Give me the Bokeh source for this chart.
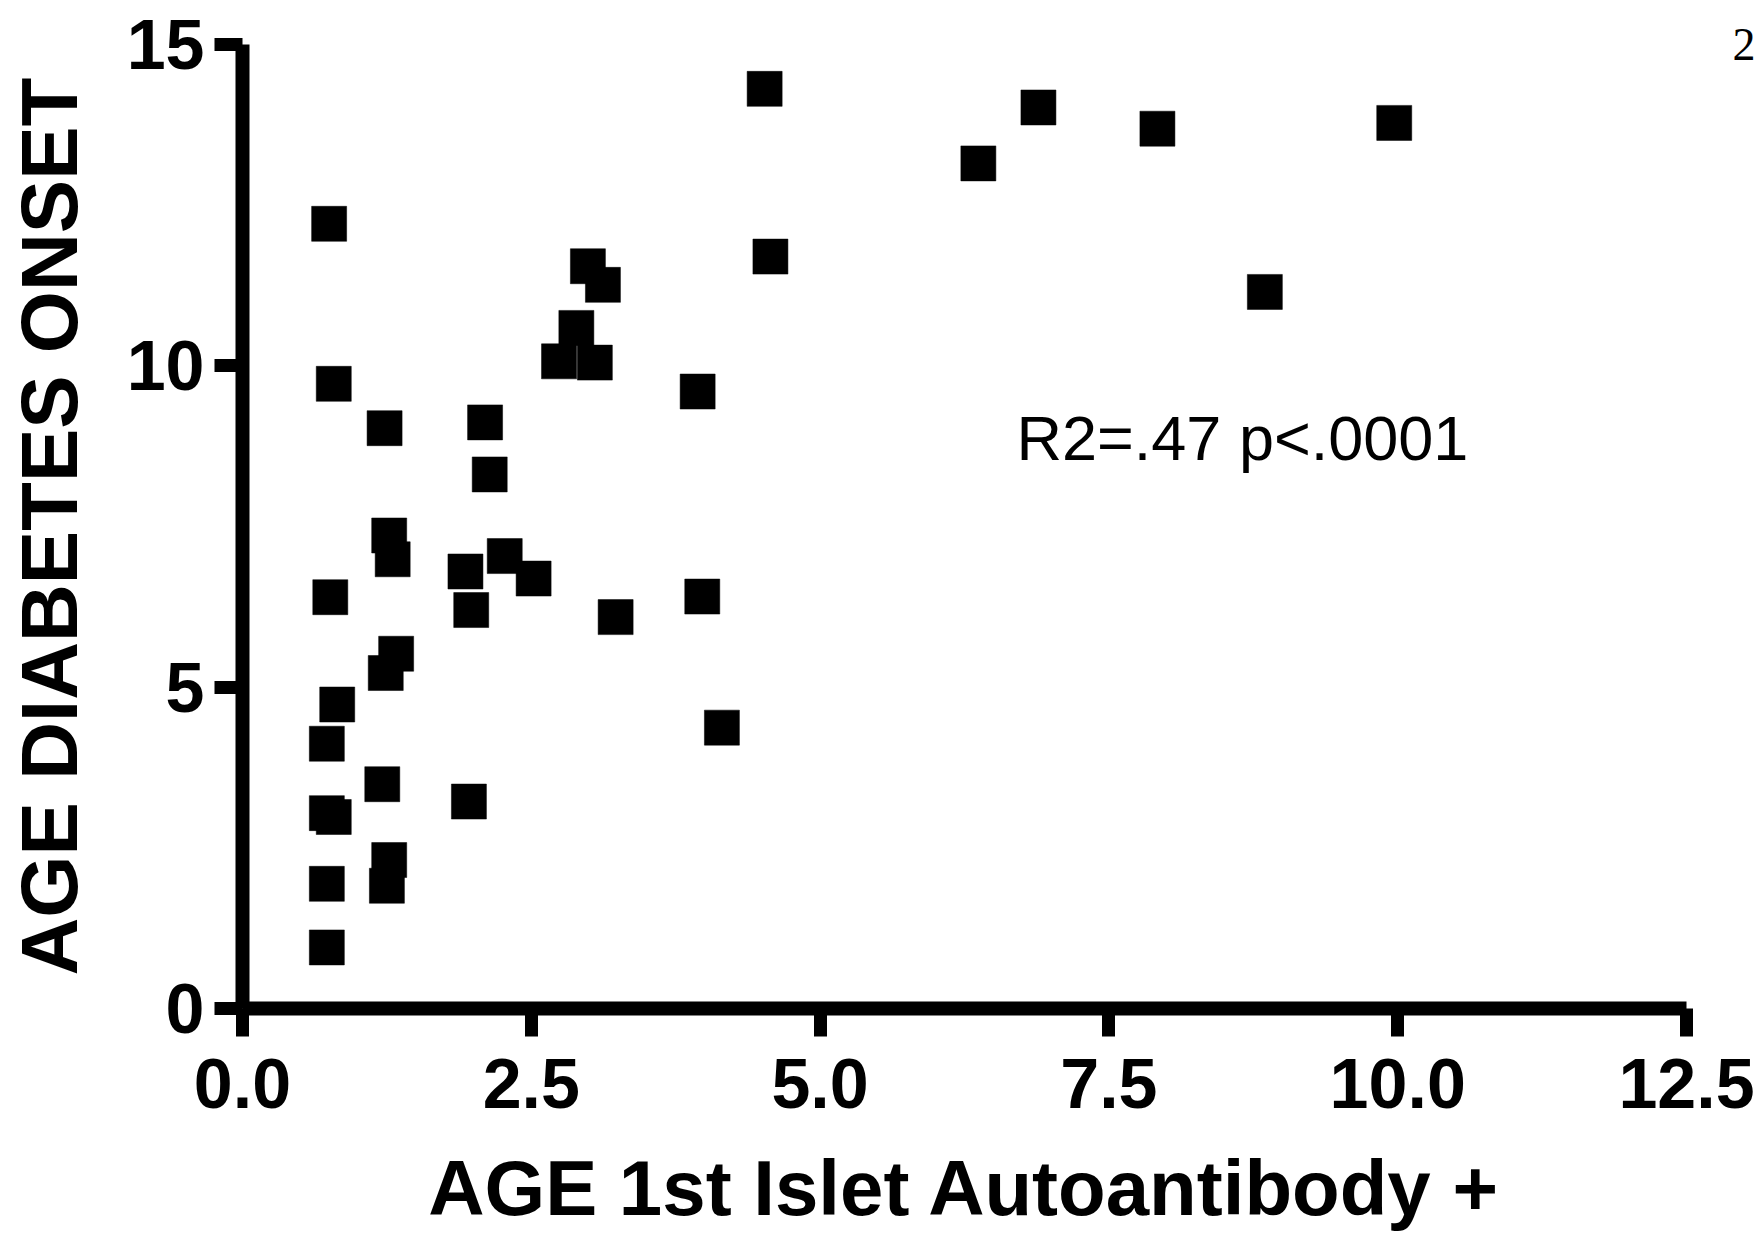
from bokeh.plotting import figure
from bokeh.models import Range1d, FixedTicker, Label, ColumnDataSource, LinearAxis
from bokeh.embed import file_html
from bokeh.resources import INLINE

# ---- data ----
age_first_autoantibody = [4.52, 0.75, 2.99, 3.12, 2.89, 2.74, 3.05, 3.94, 0.79, 1.23,
                          2.10, 2.14, 4.57, 6.37, 6.89, 7.92, 9.97, 8.85, 1.27, 1.30,
                          0.76, 1.93, 2.27, 2.52, 1.98, 3.23, 3.98, 1.33, 1.24, 0.82,
                          0.73, 4.15, 1.21, 1.96, 0.73, 0.79, 1.27, 1.25, 0.73, 0.73]
age_diabetes_onset = [14.31, 12.21, 11.55, 11.26, 10.59, 10.07, 10.05, 9.60, 9.72, 9.03,
                      9.12, 8.31, 11.70, 13.15, 14.02, 13.69, 13.78, 11.15, 7.36, 6.99,
                      6.40, 6.80, 7.04, 6.69, 6.20, 6.09, 6.41, 5.52, 5.22, 4.73,
                      4.12, 4.37, 3.49, 3.22, 3.04, 2.98, 2.31, 1.91, 1.94, 0.95]

x_ticks = [0, 2.5, 5, 7.5, 10, 12.5]
x_tick_labels = ["0.0", "2.5", "5.0", "7.5", "10.0", "12.5"]
y_ticks = [0, 5, 10, 15]
y_tick_labels = ["0", "5", "10", "15"]

x_title = "AGE 1st Islet Autoantibody +"
y_title = "AGE DIABETES ONSET"
stat_text = "R2=.47 p<.0001"
stat_pos = (6.70, 8.88)
page_number = "2"

src = ColumnDataSource(dict(x=age_first_autoantibody, y=age_diabetes_onset))

p = figure(width=1758, height=1235, output_backend="svg", toolbar_location=None,
           x_range=Range1d(0, 12.5), y_range=Range1d(0, 15),
           min_border_left=242, min_border_right=71, min_border_top=44, min_border_bottom=227)
p.background_fill_color = "white"
p.border_fill_color = "white"
p.outline_line_color = None
p.grid.visible = False

p.scatter("x", "y", source=src, marker="square", size=35,
          fill_color="black", line_color="black", line_width=0.5)

for ax in (p.xaxis[0], p.yaxis[0]):
    ax.axis_line_width = 14
    ax.axis_line_color = "black"
    ax.major_tick_line_width = 13
    ax.major_tick_line_color = "black"
    ax.major_tick_out = 28
    ax.major_tick_in = 0
    ax.minor_tick_line_color = None
    ax.major_label_text_font = "Liberation Sans"
    ax.major_label_text_font_style = "bold"
    ax.major_label_text_font_size = "70px"
    ax.major_label_text_color = "black"
    ax.axis_label_text_font = "Liberation Sans"
    ax.axis_label_text_font_style = "bold"
    ax.axis_label_text_color = "black"

xa = p.xaxis[0]
xa.ticker = FixedTicker(ticks=x_ticks)
xa.major_label_overrides = {t: l for t, l in zip(x_ticks, x_tick_labels)}
xa.major_label_standoff = 22
xa.axis_label = x_title
xa.axis_label_text_font_size = "78px"
xa.axis_label_standoff = 33

ya = p.yaxis[0]
ya.ticker = FixedTicker(ticks=y_ticks)
ya.major_label_overrides = {t: l for t, l in zip(y_ticks, y_tick_labels)}
ya.major_label_standoff = 10
ya.axis_label = y_title
ya.axis_label_text_font_size = "80px"
ya.axis_label_standoff = 30

# page number at the top right corner
ra = LinearAxis(ticker=FixedTicker(ticks=[15]), major_label_overrides={15: page_number})
ra.axis_line_color = None
ra.major_tick_line_color = None
ra.minor_tick_line_color = None
ra.major_tick_out = 0
ra.major_tick_in = 0
ra.major_label_standoff = 46
ra.major_label_text_font = "Liberation Serif"
ra.major_label_text_font_size = "46px"
ra.major_label_text_color = "black"
p.add_layout(ra, "right")

p.add_layout(Label(x=stat_pos[0], y=stat_pos[1], text=stat_text, text_font="Liberation Sans",
                   text_font_size="63px", text_align="left",
                   text_baseline="alphabetic", text_color="black"))

open("out.html", "w").write(file_html(p, INLINE))
